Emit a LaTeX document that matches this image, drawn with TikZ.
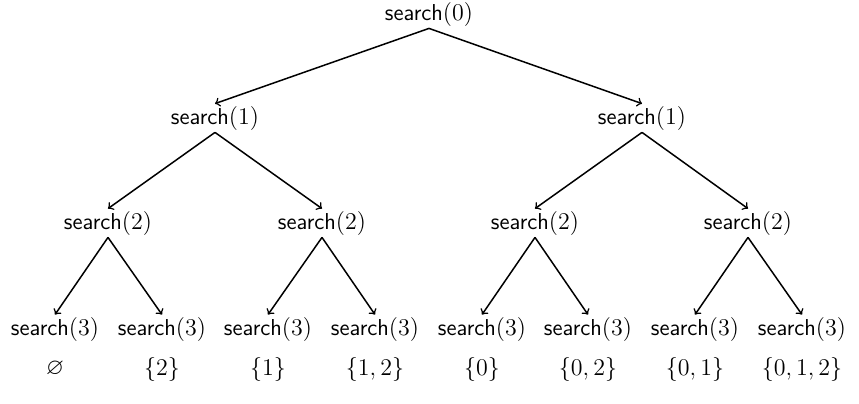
\documentclass[tikz,border=0pt]{standalone}
\usepackage{amssymb}
\begin{document}
\begin{tikzpicture}[x=0.5pt,y=-0.5pt,
  call/.style={inner sep=1pt, font=\fontsize{11.5}{13}\selectfont},
  subset/.style={inner sep=1pt, font=\fontsize{11.5}{13}\selectfont},
  edge/.style={->, line width=0.75pt}]
\useasboundingbox (0,0) rectangle (859,403);
% root
\node[call] (r) at (429,14) {\textsf{search}$(0)$};
% level 1
\node[call] (a) at (215,118) {\textsf{search}$(1)$};
\node[call] (b) at (642,118) {\textsf{search}$(1)$};
% level 2
\node[call] (aa) at (108,223) {\textsf{search}$(2)$};
\node[call] (ab) at (322,223) {\textsf{search}$(2)$};
\node[call] (ba) at (535,223) {\textsf{search}$(2)$};
\node[call] (bb) at (748,223) {\textsf{search}$(2)$};
% level 3
\foreach \n/\x in {aaa/55, aab/162, aba/268, abb/375, baa/482, bab/588, bba/695, bbb/802}
  \node[call] (\n) at (\x,329) {\textsf{search}$(3)$};
% resulting subsets
\node[subset] (s1) at (55,369) {$\varnothing$};
\node[subset] (s2) at (162,369) {$\{2\}$};
\node[subset] (s3) at (268,369) {$\{1\}$};
\node[subset] (s4) at (375,369) {$\{1,2\}$};
\node[subset] (s5) at (482,369) {$\{0\}$};
\node[subset] (s6) at (588,369) {$\{0,2\}$};
\node[subset] (s7) at (695,369) {$\{0,1\}$};
\node[subset] (s8) at (802,369) {$\{0,1,2\}$};
% recursion edges
\draw[edge] (r.south) -- (a.north);
\draw[edge] (r.south) -- (b.north);
\draw[edge] (a.south) -- (aa.north);
\draw[edge] (a.south) -- (ab.north);
\draw[edge] (b.south) -- (ba.north);
\draw[edge] (b.south) -- (bb.north);
\draw[edge] (aa.south) -- (aaa.north);
\draw[edge] (aa.south) -- (aab.north);
\draw[edge] (ab.south) -- (aba.north);
\draw[edge] (ab.south) -- (abb.north);
\draw[edge] (ba.south) -- (baa.north);
\draw[edge] (ba.south) -- (bab.north);
\draw[edge] (bb.south) -- (bba.north);
\draw[edge] (bb.south) -- (bbb.north);
\end{tikzpicture}
\end{document}
